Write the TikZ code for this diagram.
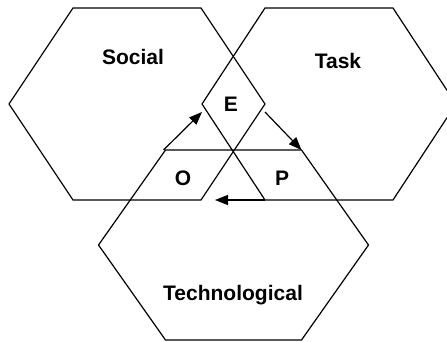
\documentclass[tikz,border=0pt]{standalone}
\usepackage{fontspec}
\setmainfont{Liberation Sans}
\usetikzlibrary{arrows.meta,positioning,calc}

\begin{document}
\begin{tikzpicture}[
    x=1pt, y=1pt,
    hexline/.style={draw=black, line width=1.2pt, line join=miter},
    flow/.style={draw=black, line width=1.2pt, -{Triangle[length=13pt,width=10pt]}},
    every node/.style={font=\fontsize{21}{25}\selectfont\bfseries, inner sep=0pt}
]
    \useasboundingbox (0,0) rectangle (447,341);
    % the three hexagons: name/centre/half width/half top/half height
    \foreach \hname/\cx/\cy/\hw/\ha/\hh in {soc/137/237/128/64/96, task/329/237/127/64/96, tech/233.5/96/135/68/95}{
        \coordinate (\hname-r) at (\cx+\hw,\cy);
        \coordinate (\hname-tr) at (\cx+\ha,\cy+\hh);
        \coordinate (\hname-tl) at (\cx-\ha,\cy+\hh);
        \coordinate (\hname-l) at (\cx-\hw,\cy);
        \coordinate (\hname-bl) at (\cx-\ha,\cy-\hh);
        \coordinate (\hname-br) at (\cx+\ha,\cy-\hh);
        \draw[hexline] (\hname-r) -- (\hname-tr) -- (\hname-tl) -- (\hname-l) -- (\hname-bl) -- (\hname-br) -- cycle;
    }

    \node (social) at (133,284) {Social};
    \node (task) at (338,280) {Task};
    \node (technological) at (233,46) {Technological};
    \node (e) at (231,237) {E};
    \node (o) at (183,163) {O};
    \node (p) at (282,163) {P};

    % the cycle O -> E -> P -> O
    \draw[flow] ([xshift=-2pt]tech-tl) -- ([yshift=-8pt]task-l);
    \draw[flow] ([yshift=-8pt]soc-r) -- (tech-tr);
    \draw[flow] (task-bl) -- ([xshift=14pt]soc-br);
\end{tikzpicture}
\end{document}
